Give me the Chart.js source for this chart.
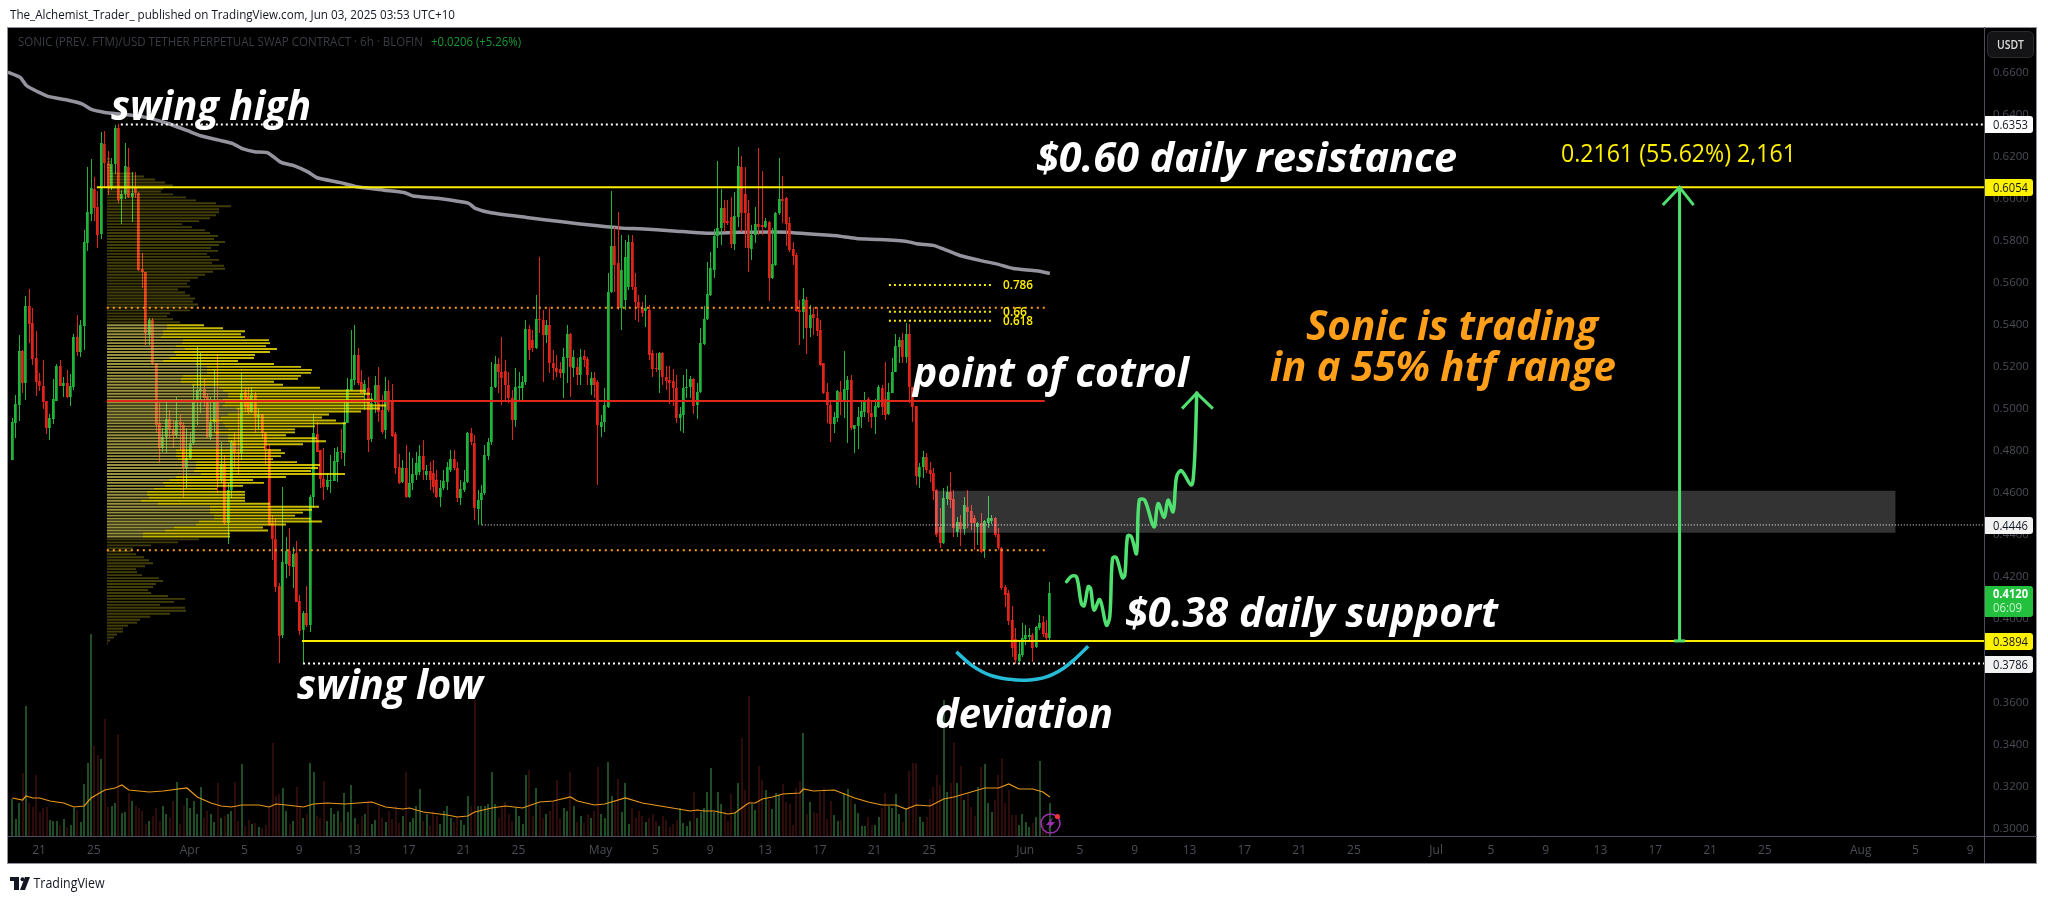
<!DOCTYPE html>
<html><head><meta charset="utf-8"><title>SONIC</title>
<script src="https://cdn.jsdelivr.net/npm/chart.js@4/dist/chart.umd.js"></script>
<style>html,body{margin:0;padding:0;background:#fff}canvas{display:block}</style></head>
<body><canvas id="c" width="2048" height="899"></canvas>
<script>
const opens=[0.4754,0.4931,0.5016,0.5274,0.5121,0.5488,0.5407,0.5240,0.5131,0.5107,0.5035,0.4907,0.4950,0.5035,0.5202,0.5107,0.5121,0.5055,0.5102,0.5340,0.5269,0.5393,0.5788,0.5926,0.6045,0.5959,0.5831,0.6259,0.6169,0.6055,0.6164,0.6335,0.5997,0.6021,0.6150,0.6007,0.6055,0.6026,0.5664,0.5650,0.5350,0.5421,0.5216,0.4931,0.4812,0.4864,0.4950,0.4902,0.4873,0.4935,0.4921,0.4716,0.4764,0.4835,0.5031,0.5083,0.5093,0.5055,0.4864,0.4935,0.5031,0.4659,0.4735,0.4454,0.4612,0.4840,0.4793,0.4788,0.5078,0.5055,0.4983,0.5064,0.4959,0.4973,0.4883,0.4807,0.4454,0.4378,0.4154,0.3921,0.4259,0.4321,0.4245,0.4312,0.4083,0.3945,0.4026,0.3969,0.4578,0.4878,0.4802,0.4664,0.4626,0.4654,0.4654,0.4745,0.4797,0.4788,0.4931,0.5088,0.5135,0.5255,0.5126,0.5074,0.5097,0.4855,0.5026,0.5112,0.4993,0.4897,0.5083,0.5035,0.4878,0.4721,0.4650,0.4716,0.4578,0.4645,0.4683,0.4697,0.4774,0.4683,0.4702,0.4693,0.4659,0.4578,0.4621,0.4650,0.4707,0.4759,0.4716,0.4574,0.4612,0.4650,0.4883,0.4835,0.4521,0.4564,0.4597,0.4774,0.4840,0.5102,0.5212,0.5174,0.5178,0.5112,0.5050,0.4945,0.5097,0.5097,0.5126,0.5378,0.5326,0.5288,0.5426,0.5421,0.5350,0.5397,0.5216,0.5193,0.5188,0.5169,0.5240,0.5355,0.5193,0.5197,0.5159,0.5250,0.5235,0.5112,0.5145,0.5126,0.4912,0.4935,0.5007,0.5554,0.5774,0.5693,0.5478,0.5516,0.5578,0.5793,0.5578,0.5507,0.5478,0.5464,0.5469,0.5264,0.5193,0.5183,0.5264,0.5150,0.5135,0.5131,0.5097,0.4954,0.4969,0.5097,0.5102,0.5140,0.5016,0.5078,0.5307,0.5426,0.5540,0.5659,0.5821,0.5859,0.5955,0.5893,0.5912,0.5783,0.5912,0.6150,0.6021,0.5931,0.5759,0.5826,0.5878,0.5874,0.5864,0.5888,0.5621,0.5683,0.5931,0.5997,0.6002,0.5883,0.5759,0.5731,0.5469,0.5459,0.5516,0.5383,0.5450,0.5431,0.5374,0.5216,0.5078,0.5016,0.4926,0.4954,0.5078,0.5040,0.5088,0.5135,0.4902,0.4916,0.4959,0.4983,0.5045,0.4978,0.4959,0.5007,0.5097,0.5045,0.4973,0.5074,0.5174,0.5293,0.5326,0.5245,0.5355,0.5102,0.5012,0.4673,0.4721,0.4769,0.4707,0.4693,0.4612,0.4435,0.4359,0.4569,0.4602,0.4569,0.4412,0.4459,0.4426,0.4531,0.4512,0.4478,0.4435,0.4454,0.4326,0.4454,0.4464,0.4478,0.4402,0.4335,0.4150,0.4121,0.3993,0.3902,0.3797,0.3826,0.3902,0.3912,0.3921,0.3864,0.3954,0.3983,0.3931,0.3907];
const highs=[0.4954,0.5064,0.5350,0.5278,0.5535,0.5569,0.5478,0.5369,0.5169,0.5231,0.5035,0.4973,0.5140,0.5212,0.5231,0.5150,0.5183,0.5164,0.5355,0.5445,0.5421,0.5850,0.6150,0.6188,0.6102,0.6035,0.6316,0.6321,0.6226,0.6193,0.6350,0.6353,0.6040,0.6264,0.6240,0.6126,0.6126,0.6031,0.5740,0.5650,0.5431,0.5431,0.5216,0.5026,0.4907,0.5031,0.4993,0.4945,0.5055,0.4973,0.4935,0.4907,0.4888,0.5112,0.5293,0.5264,0.5145,0.5074,0.5055,0.5188,0.5259,0.4840,0.4778,0.4645,0.4850,0.4883,0.5002,0.5169,0.5097,0.5102,0.5102,0.5078,0.5002,0.4973,0.4888,0.4826,0.4493,0.4478,0.4169,0.4626,0.4388,0.4431,0.4340,0.4369,0.4112,0.4035,0.4155,0.4588,0.4973,0.4935,0.4802,0.4812,0.4693,0.4778,0.4812,0.4816,0.4902,0.5031,0.5145,0.5373,0.5397,0.5288,0.5183,0.5135,0.5150,0.5074,0.5155,0.5197,0.5064,0.5150,0.5135,0.5116,0.4888,0.4783,0.4754,0.4826,0.4793,0.4764,0.4793,0.4826,0.4850,0.4731,0.4745,0.4754,0.4707,0.4659,0.4707,0.4745,0.4802,0.4802,0.4745,0.4659,0.4707,0.4888,0.4907,0.4873,0.4612,0.4635,0.4826,0.4859,0.5221,0.5250,0.5240,0.5340,0.5231,0.5174,0.5088,0.5193,0.5174,0.5155,0.5421,0.5397,0.5373,0.5540,0.5721,0.5469,0.5421,0.5483,0.5278,0.5255,0.5221,0.5288,0.5397,0.5359,0.5278,0.5240,0.5283,0.5278,0.5245,0.5174,0.5174,0.5135,0.4969,0.5097,0.5645,0.6035,0.5864,0.5935,0.5826,0.5802,0.5826,0.5826,0.5645,0.5540,0.5507,0.5540,0.5493,0.5278,0.5264,0.5269,0.5269,0.5202,0.5202,0.5188,0.5159,0.5007,0.5159,0.5188,0.5155,0.5145,0.5121,0.5383,0.5488,0.5697,0.5745,0.5855,0.6178,0.6045,0.5993,0.5993,0.6007,0.6031,0.6245,0.6202,0.6150,0.5993,0.5874,0.5959,0.6240,0.6131,0.5907,0.5893,0.5859,0.5935,0.6193,0.6107,0.6007,0.5912,0.5793,0.5740,0.5516,0.5574,0.5531,0.5493,0.5483,0.5483,0.5421,0.5218,0.5121,0.5031,0.4983,0.5088,0.5131,0.5274,0.5155,0.5159,0.4923,0.5007,0.5031,0.5078,0.5055,0.5031,0.5045,0.5112,0.5112,0.5221,0.5121,0.5240,0.5355,0.5340,0.5359,0.5407,0.5402,0.5104,0.5014,0.4740,0.4797,0.4788,0.4745,0.4716,0.4616,0.4526,0.4621,0.4631,0.4697,0.4612,0.4483,0.4493,0.4578,0.4612,0.4540,0.4493,0.4459,0.4502,0.4469,0.4583,0.4493,0.4483,0.4431,0.4340,0.4159,0.4135,0.4059,0.3954,0.3897,0.3978,0.3969,0.3954,0.3931,0.3964,0.4016,0.4012,0.3993,0.4174];
const lows=[0.4754,0.4859,0.4940,0.5074,0.5040,0.5312,0.5207,0.5059,0.5083,0.4997,0.4878,0.4850,0.4926,0.5035,0.5107,0.5055,0.5050,0.5012,0.5088,0.5250,0.5245,0.5278,0.5750,0.5893,0.5893,0.5764,0.5807,0.6050,0.6016,0.6040,0.6116,0.5978,0.5878,0.5997,0.6002,0.5888,0.6002,0.5655,0.5574,0.5302,0.5302,0.5207,0.4883,0.4740,0.4793,0.4788,0.4859,0.4812,0.4859,0.4802,0.4578,0.4621,0.4754,0.4826,0.4921,0.4978,0.5007,0.4859,0.4850,0.4888,0.4597,0.4645,0.4445,0.4354,0.4574,0.4721,0.4683,0.4754,0.4983,0.4973,0.4978,0.4883,0.4897,0.4855,0.4735,0.4440,0.4278,0.4126,0.3788,0.3907,0.4193,0.4202,0.4145,0.4078,0.3921,0.3786,0.3959,0.3935,0.4526,0.4793,0.4621,0.4564,0.4612,0.4597,0.4654,0.4650,0.4759,0.4726,0.4931,0.5083,0.5112,0.5112,0.5074,0.4993,0.4793,0.4840,0.4978,0.4935,0.4878,0.4855,0.4983,0.4864,0.4688,0.4640,0.4645,0.4574,0.4574,0.4612,0.4659,0.4683,0.4659,0.4659,0.4612,0.4597,0.4574,0.4531,0.4612,0.4612,0.4697,0.4707,0.4554,0.4540,0.4602,0.4645,0.4826,0.4469,0.4445,0.4446,0.4588,0.4754,0.4826,0.5097,0.5074,0.5016,0.5040,0.5026,0.4850,0.4912,0.5040,0.5040,0.5112,0.5231,0.5269,0.5283,0.5359,0.5126,0.5312,0.5169,0.5135,0.5150,0.5145,0.5050,0.5121,0.5055,0.5150,0.5112,0.5112,0.5197,0.5112,0.5064,0.5050,0.4635,0.4864,0.4888,0.5002,0.5550,0.5554,0.5469,0.5374,0.5469,0.5564,0.5564,0.5421,0.5412,0.5436,0.5388,0.5231,0.5150,0.5174,0.5074,0.5112,0.5088,0.5021,0.5012,0.4931,0.4893,0.4883,0.5050,0.5050,0.4973,0.4950,0.5074,0.5302,0.5421,0.5535,0.5621,0.5764,0.5778,0.5840,0.5874,0.5764,0.5755,0.5864,0.5840,0.5764,0.5650,0.5707,0.5788,0.5826,0.5826,0.5859,0.5512,0.5619,0.5678,0.5921,0.5883,0.5774,0.5745,0.5683,0.5459,0.5302,0.5331,0.5259,0.5340,0.5350,0.5345,0.5205,0.5069,0.4931,0.4840,0.4883,0.4935,0.4969,0.4954,0.4835,0.4897,0.4788,0.4807,0.4907,0.4959,0.4935,0.4907,0.4878,0.5002,0.4969,0.4945,0.4969,0.5072,0.5172,0.5216,0.5216,0.5216,0.5026,0.4935,0.4635,0.4621,0.4669,0.4693,0.4650,0.4564,0.4388,0.4335,0.4354,0.4540,0.4526,0.4388,0.4388,0.4345,0.4397,0.4431,0.4421,0.4326,0.4350,0.4314,0.4288,0.4431,0.4450,0.4388,0.4326,0.4135,0.4055,0.3969,0.3816,0.3786,0.3793,0.3816,0.3873,0.3897,0.3793,0.3859,0.3945,0.3912,0.3893,0.3897];
const closes=[0.4935,0.5021,0.5274,0.5121,0.5488,0.5402,0.5235,0.5126,0.5107,0.5031,0.4907,0.4954,0.5045,0.5202,0.5107,0.5121,0.5055,0.5107,0.5340,0.5269,0.5397,0.5793,0.5935,0.6050,0.5955,0.5826,0.6264,0.6169,0.6050,0.6164,0.6335,0.5993,0.6021,0.6155,0.6007,0.6026,0.6026,0.5659,0.5650,0.5359,0.5421,0.5216,0.4921,0.4812,0.4864,0.4950,0.4897,0.4873,0.4940,0.4921,0.4716,0.4764,0.4835,0.5031,0.5088,0.5093,0.5050,0.4864,0.4935,0.5031,0.4659,0.4735,0.4454,0.4612,0.4840,0.4788,0.4788,0.5074,0.5007,0.4983,0.5064,0.4959,0.4973,0.4883,0.4802,0.4445,0.4378,0.4150,0.3916,0.4269,0.4321,0.4250,0.4307,0.4078,0.3940,0.4026,0.3969,0.4578,0.4883,0.4793,0.4664,0.4626,0.4659,0.4659,0.4750,0.4793,0.4793,0.4935,0.5093,0.5140,0.5255,0.5121,0.5074,0.5116,0.4850,0.5026,0.5112,0.4983,0.4888,0.5083,0.4993,0.4869,0.4716,0.4645,0.4716,0.4578,0.4645,0.4688,0.4740,0.4774,0.4707,0.4702,0.4659,0.4626,0.4578,0.4621,0.4654,0.4721,0.4759,0.4716,0.4574,0.4616,0.4650,0.4883,0.4840,0.4526,0.4564,0.4597,0.4778,0.4840,0.5102,0.5212,0.5174,0.5145,0.5112,0.5050,0.4945,0.5102,0.5107,0.5126,0.5378,0.5278,0.5288,0.5426,0.5421,0.5350,0.5397,0.5216,0.5193,0.5174,0.5169,0.5245,0.5355,0.5197,0.5245,0.5159,0.5245,0.5231,0.5159,0.5145,0.5112,0.4921,0.4935,0.5016,0.5554,0.5774,0.5683,0.5478,0.5659,0.5721,0.5793,0.5578,0.5507,0.5478,0.5454,0.5478,0.5255,0.5188,0.5188,0.5264,0.5150,0.5131,0.5121,0.5097,0.4954,0.4973,0.5097,0.5102,0.5140,0.5012,0.5078,0.5312,0.5426,0.5545,0.5669,0.5821,0.5859,0.5955,0.5883,0.5883,0.5783,0.5916,0.6155,0.5931,0.5931,0.5764,0.5826,0.5878,0.5864,0.5864,0.5893,0.5621,0.5688,0.5931,0.5997,0.5988,0.5878,0.5755,0.5726,0.5464,0.5459,0.5521,0.5383,0.5445,0.5431,0.5369,0.5207,0.5074,0.5016,0.4926,0.4959,0.5083,0.5031,0.5093,0.5135,0.4907,0.4921,0.4959,0.4988,0.5031,0.4978,0.4959,0.5012,0.5102,0.5007,0.4969,0.5078,0.5174,0.5297,0.5326,0.5245,0.5355,0.5102,0.5007,0.4678,0.4721,0.4769,0.4707,0.4688,0.4607,0.4397,0.4359,0.4574,0.4602,0.4564,0.4431,0.4459,0.4426,0.4540,0.4507,0.4454,0.4454,0.4454,0.4316,0.4464,0.4478,0.4478,0.4397,0.4335,0.4145,0.4112,0.3988,0.3859,0.3802,0.3831,0.3907,0.3921,0.3921,0.3859,0.3959,0.3978,0.3926,0.3907,0.4120];
const volumes=[37,17,33,63,130,33,29,61,24,28,29,16,15,15,11,17,9,11,28,26,14,52,73,202,90,81,77,117,29,30,33,102,23,24,43,35,30,28,25,12,15,20,28,15,30,22,18,35,54,12,30,38,28,35,22,49,18,25,22,14,53,18,20,22,25,54,15,72,10,16,12,13,9,8,11,30,93,40,42,48,25,12,15,49,30,18,22,73,64,20,18,55,15,28,22,25,14,43,24,51,18,12,20,22,35,12,16,30,18,14,25,17,30,13,20,64,14,18,30,47,15,22,10,25,20,12,25,30,18,14,20,16,11,40,30,136,30,30,30,32,64,32,18,30,34,22,15,28,20,12,61,66,20,48,30,18,22,25,35,56,18,28,25,64,30,14,20,13,22,18,25,69,22,18,74,40,35,57,24,53,12,28,18,25,20,14,18,22,15,10,20,16,9,12,16,28,13,10,15,44,18,24,28,44,68,24,44,32,25,15,42,23,53,98,46,140,32,26,70,56,46,36,27,43,41,52,34,32,11,48,55,103,22,34,24,23,44,48,17,35,21,15,16,43,47,38,32,23,10,10,19,11,11,19,28,43,30,28,42,22,14,27,65,73,73,19,14,19,37,49,61,51,136,44,53,94,53,70,36,43,29,20,49,69,72,33,24,36,61,78,33,46,21,21,11,22,14,9,13,19,75,13,6,33];
const volMaBars=[0,3,4,6,8,11,15,18,21,23,27,30,32,34,40,44,51,54,58,61,64,67,72,75,77,80,85,88,92,97,105,109,114,116,120,127,130,133,135,140,144,149,154,158,163,165,170,173,179,184,191,198,200,202,205,209,211,213,215,217,219,222,225,230,231,234,240,243,246,250,254,258,261,264,268,272,275,279,284,288,291,294,298,301,303];
const volMaVals=[38,36,40,38,38,35,33,29,30,38,46,48,51,46,44,45,48,39,33,30,29,31,31,29,32,31,29,32,33,32,34,29,27,28,24,21,19,20,24,28,30,28,34,35,39,35,31,32,38,33,29,25,26,25,25,22,23,28,33,33,37,39,42,43,47,45,46,42,38,34,31,31,27,31,30,37,39,43,48,48,52,47,47,44,39];
const smaBars=[-1.3,2.3,4.2,7.5,10.7,16,20.5,23.1,27,31.6,36.8,41.4,45.9,51.2,55,60.3,64.2,67.4,70.7,74.6,78.5,82.4,86.3,89,95.5,100.6,108.5,114.4,117,124.1,133.3,135.2,139.8,150.2,160.6,171,178.9,183.3,193,202.7,212.5,226,232,241.7,246.5,253.3,261.2,264.1,268.9,271.4,276.7,283.5,287.4,292.3,299.1,303];
const smaVals=[0.6602,0.6577,0.6537,0.6508,0.6485,0.6469,0.6450,0.6424,0.6410,0.6402,0.6393,0.6377,0.6355,0.6323,0.6299,0.6278,0.6263,0.6236,0.6223,0.6218,0.6172,0.6156,0.6127,0.6099,0.6077,0.6056,0.6040,0.6029,0.6012,0.6001,0.5977,0.5953,0.5932,0.5910,0.5889,0.5870,0.5858,0.5856,0.5846,0.5835,0.5839,0.5840,0.5832,0.5821,0.5810,0.5805,0.5796,0.5785,0.5777,0.5763,0.5729,0.5702,0.5689,0.5667,0.5656,0.5644];
const profileTop=0.6352, profileStep=0.001593;
const profileUp=[3,4,4,5,5,27,37,48,58,66,56,54,66,79,89,109,124,112,112,109,103,92,75,85,98,103,111,107,118,112,104,111,100,103,112,105,117,118,106,98,91,83,80,83,71,78,83,88,86,91,87,83,63,60,66,73,60,60,56,56,54,76,75,69,78,67,69,63,56,89,100,100,100,76,74,74,85,112,116,121,121,116,118,116,129,134,121,114,103,116,118,121,107,121,121,121,125,134,69,69,69,71,89,89,89,87,94,69,63,56,58,47,40,40,42,34,51,103,103,103,107,107,92,89,67,58,36,36,92,71,44,26,24,29,37,42,46,38,29,30,35,52,56,49,46,41,44,61,78,67,53,78,79,63,43,33,30,21,16,16,10,7,3,1];
const profileTotal=[3,4,4,5,5,27,37,48,58,66,56,54,66,79,89,109,124,112,112,109,103,92,75,85,98,103,111,107,118,112,104,111,100,103,112,105,117,118,106,98,91,83,80,83,71,78,83,88,86,91,87,83,63,60,66,73,97,116,138,134,138,162,163,159,170,163,148,147,131,167,194,205,204,194,191,167,176,213,259,263,257,266,263,279,273,254,222,215,229,239,208,188,188,179,210,219,196,158,174,178,174,166,190,213,211,204,238,179,146,157,136,110,138,138,138,138,163,212,205,196,188,204,215,179,156,161,123,123,92,71,44,26,24,29,37,42,46,38,29,30,35,52,56,49,46,41,44,61,78,67,53,78,79,63,43,33,30,21,16,16,10,7,3,1];
const priceTicks=[0.66,0.64,0.62,0.60,0.58,0.56,0.54,0.52,0.50,0.48,0.46,0.44,0.42,0.40,0.38,0.36,0.34,0.32,0.30];
const dayTickLabels=['21','25','Apr','5','9','13','17','21','25','May','5','9','13','17','21','25','Jun','5','9','13','17','21','25','Jul','5','9','13','17','21','25','Aug','5','9'];
const dayTickOffsets=[0,4,11,15,19,23,27,31,35,41,45,49,53,57,61,65,72,76,80,84,88,92,96,102,106,110,114,118,122,126,133,137,141];
const pathBars=[307.9,309.3,310.8,312.2,313,314.2,314.9,315.9,317.6,319.5,320.5,321.3,322.4,324.2,324.9,325.7,326.8,328.3,329.1,330.7,333.4,334.6,336.4,337.5,339,340,341.4,344.3,345,345.5,345.9];
const pathVals=[0.4176,0.4202,0.4199,0.4072,0.4061,0.4152,0.4144,0.4041,0.4091,0.3969,0.4009,0.4287,0.4291,0.4195,0.4207,0.4394,0.4390,0.4310,0.4564,0.4564,0.4437,0.4548,0.4482,0.4564,0.4509,0.4675,0.4704,0.4636,0.4691,0.4850,0.5074];
const curveBars=[275.7,280.1,285.5,291.3,296.2,302,306.9,310.8,314.2];
const curveVals=[0.3842,0.3779,0.3731,0.3711,0.3707,0.3723,0.3763,0.3815,0.3869];

const C_UP='#1fb53a',C_DN='#e0241a',C_GRN='#50e070',C_YEL='#ffee00',C_ORG='#ff9f1a';
const BARS_PER_DAY=4, DAY0_BAR=7.8, X_MIN=-1.255, X_MAX=575.8, Y_MIN=0.29652, Y_MAX=0.68167;

// crisp vertical candles, as on the original
const _draw=Chart.BarElement.prototype.draw;
Chart.BarElement.prototype.draw=function(ctx){
  if(this.horizontal){return _draw.call(this,ctx);}
  const s=[this.x,this.y,this.base];
  const w=Math.round(this.width);
  this.x=Math.round(s[0]-w/2)+this.width/2;
  let t=Math.round(s[1]),b=Math.round(s[2]);
  if(t===b){b=t+1;}
  this.y=t;this.base=b;
  _draw.call(this,ctx);
  this.x=s[0];this.y=s[1];this.base=s[2];
};

const colorsOf=(up,dn)=>closes.map((c,i)=>c>=opens[i]?up:dn);
const line=(pts,color,width,dash,order,extra)=>Object.assign({type:'line',data:pts,borderColor:color,borderWidth:width,borderDash:dash||[],pointRadius:0,tension:0,order,xAxisID:'x',yAxisID:'y',fill:false},extra||{});
const lvl=(a,b,p,color,width,dash)=>line([{x:a,y:p},{x:b,y:p}],color,width,dash,2);
const zip=(xs,ys)=>xs.map((x,i)=>({x,y:ys[i]}));
const profileRow=k=>profileTop-k*profileStep;

const datasets=[
 // projections
 line(zip(pathBars,pathVals),C_GRN,3.5,[],1,{tension:0.35,borderCapStyle:'round',borderJoinStyle:'round'}),
 line([{x:341.6,y:0.5000},{x:345.9,y:0.5074},{x:350.6,y:0.5000}],C_GRN,3,[],1),
 line(zip(curveBars,curveVals),'#26bcd8',3.5,[],1,{tension:0.4}),
 line([{x:486.9,y:0.3894},{x:486.9,y:0.6054}],C_GRN,3,[],1),
 line([{x:482,y:0.5969},{x:486.9,y:0.6054},{x:491,y:0.5969}],C_GRN,3,[],1),
 line([{x:485.3,y:0.3894},{x:488.5,y:0.3894}],C_GRN,3,[],1),
 // levels
 lvl(31.7,X_MAX,0.6353,'#ffffff',2,[2,3]),
 lvl(24.7,X_MAX,0.6054,C_YEL,2,[]),
 lvl(27.6,301.5,0.5480,C_ORG,2,[2,4]),
 lvl(27.6,301.5,0.4326,C_ORG,2,[2,4]),
 lvl(27.6,301.5,0.5036,'#e0281a',2,[]),
 lvl(137.1,X_MAX,0.4446,'#ffffff',1,[1,2]),
 lvl(84.6,X_MAX,0.3894,C_YEL,2,[]),
 lvl(84.9,X_MAX,0.3786,'#ffffff',2,[2,3]),
 lvl(256,286.3,0.5588,C_YEL,2,[2,3]),
 lvl(256,286.3,0.5461,C_YEL,2,[2,3]),
 lvl(256,286.3,0.5418,C_YEL,2,[2,3]),
 // zone
 line([{x:269.4,y:0.4609},{x:550,y:0.4609}],'rgba(0,0,0,0)',0,[],2.5,{fill:{target:{value:0.4409}},backgroundColor:'rgba(255,255,255,0.2)'}),
 // volume profile
 {type:'bar',label:'profile up',indexAxis:'y',xAxisID:'xProf',yAxisID:'yProf',grouped:false,order:3,barPercentage:0.8,inflateAmount:0,
  data:profileTotal.map((t,k)=>({y:profileRow(k),x:[0,profileUp[k]]})),
  backgroundColor:profileTotal.map((t,k)=>t===profileUp[k]?'rgba(255,240,40,0.26)':'rgba(205,195,85,0.74)')},
 {type:'bar',label:'profile down',indexAxis:'y',xAxisID:'xProf',yAxisID:'yProf',grouped:false,order:3,barPercentage:0.8,inflateAmount:0,
  data:profileTotal.map((t,k)=>({y:profileRow(k),x:[profileUp[k],t]})),
  backgroundColor:'rgba(255,238,0,0.78)'},
 // candles
 {type:'bar',label:'body',xAxisID:'x',yAxisID:'y',grouped:false,order:4,barPercentage:1,maxBarThickness:3,inflateAmount:0,
  data:opens.map((o,i)=>({x:i,y:[o,closes[i]]})),backgroundColor:colorsOf(C_UP,C_DN)},
 {type:'bar',label:'wick',xAxisID:'x',yAxisID:'y',grouped:false,order:5,barPercentage:1,maxBarThickness:1,inflateAmount:0,
  data:lows.map((l,i)=>({x:i,y:[l,highs[i]]})),backgroundColor:colorsOf(C_UP,C_DN)},
 line(zip(smaBars,smaVals),'#94949f',3.5,[],6,{tension:0.2}),
 // volume
 {type:'line',data:zip(volMaBars,volMaVals),borderColor:'#e8981c',borderWidth:1.2,pointRadius:0,tension:0,order:7,xAxisID:'x',yAxisID:'yVol',fill:false},
 {type:'bar',label:'volume',xAxisID:'x',yAxisID:'yVol',grouped:false,order:8,barPercentage:1,maxBarThickness:2,inflateAmount:0,
  data:volumes.map((v,i)=>({x:i,y:v})),backgroundColor:colorsOf('#1f4d25','#2e0c0a')}
];

function fit(ctx,text,x,y,w,font,color,align){
  ctx.save();ctx.font=font;ctx.fillStyle=color;ctx.textBaseline='alphabetic';ctx.textAlign='left';
  const m=ctx.measureText(text).width;ctx.translate(x,y);ctx.scale(w/m,1);ctx.fillText(text,0,0);ctx.restore();
}
const BIG='italic 700 41px "Open Sans"';
const UI='"Open Sans"';

const frame={id:'frame',beforeDraw(ch){
  const c=ch.ctx;c.save();
  c.fillStyle='#fff';c.fillRect(0,0,2048,899);
  c.fillStyle='#000';c.fillRect(8,27,2029,836);
  c.strokeStyle='#8f929a';c.lineWidth=1;c.strokeRect(7.5,27.5,2029,836);
  c.strokeStyle='#4b4e5c';c.beginPath();c.moveTo(1984.5,27);c.lineTo(1984.5,863);c.moveTo(8,836.5);c.lineTo(2037,836.5);c.stroke();
  c.restore();
}};
const overlay={id:'overlay',afterDraw(ch){
  const c=ch.ctx,y=ch.scales.y;
  fit(c,'The_Alchemist_Trader_ published on TradingView.com, Jun 03, 2025 03:53 UTC+10',10,19,445,`13px ${UI}`,'#131722');
  fit(c,'SONIC (PREV. FTM)/USD TETHER PERPETUAL SWAP CONTRACT · 6h · BLOFIN',18,46,405,`13px ${UI}`,'#3a3d44');
  fit(c,'+0.0206 (+5.26%)',431,46,90,`13px ${UI}`,'#1a9a33');
  // annotations
  fit(c,'swing high',111,120,200,BIG,'#fff');
  fit(c,'swing low',297,699,186,BIG,'#fff');
  fit(c,'$0.60 daily resistance',1036,172,421,BIG,'#fff');
  fit(c,'point of cotrol',913,387,276,BIG,'#fff');
  fit(c,'$0.38 daily support',1125,627,373,BIG,'#fff');
  fit(c,'deviation',935,728,178,BIG,'#fff');
  fit(c,'Sonic is trading',1306,340,292,BIG,C_ORG);
  fit(c,'in a 55% htf range',1270,381,346,BIG,C_ORG);
  fit(c,'0.2161 (55.62%) 2,161',1561,162,235,`500 26px ${UI}`,'#fff000');
  fit(c,'0.786',1003,289,30,`600 13px ${UI}`,C_YEL);
  fit(c,'0.66',1003,316,24,`600 13px ${UI}`,C_YEL);
  fit(c,'0.618',1003,325,30,`600 13px ${UI}`,C_YEL);
  // USDT button
  c.save();c.fillStyle='#141416';c.strokeStyle='#2c2c30';c.lineWidth=1;c.beginPath();c.roundRect(1987.5,31.5,46,26,5);c.fill();c.stroke();c.restore();
  fit(c,'USDT',1997,49,27,`600 12px ${UI}`,'#dcdcdc');
  // price tags
  [[0.6353,'#ffffff','#131722'],[0.6054,'#fff200','#131722'],[0.4446,'#f2f2f2','#131722'],[0.3894,'#fff200','#131722'],[0.3786,'#f2f2f2','#131722']].forEach(([p,bg,fg])=>{
    const py=Math.round(y.getPixelForValue(p));
    c.save();c.fillStyle=bg;c.beginPath();c.roundRect(1985,py-8,48,17,[0,3,3,0]);c.fill();c.restore();
    fit(c,p.toFixed(4),1993,py+4.5,35,`12px ${UI}`,fg);
  });
  const gy=Math.round(y.getPixelForValue(0.412));
  c.save();c.fillStyle='#22c03c';c.beginPath();c.roundRect(1985,gy-7,48,31,[0,3,3,0]);c.fill();c.restore();
  fit(c,'0.4120',1993,gy+5,35,`700 12px ${UI}`,'#ffffff');
  fit(c,'06:09',1993,gy+19,29,`12px ${UI}`,'#c7f2cf');
  // power icon
  c.save();c.strokeStyle='#9b2fae';c.lineWidth=1.6;c.beginPath();c.arc(1050.5,823.5,9.5,0,7);c.stroke();
  c.fillStyle='#9b2fae';c.beginPath();c.moveTo(1053,817);c.lineTo(1046,825);c.lineTo(1050,825);c.lineTo(1048,830);c.lineTo(1055,822);c.lineTo(1051,822);c.closePath();c.fill();
  c.fillStyle='#f0303a';c.beginPath();c.arc(1057.5,816.5,2.6,0,7);c.fill();c.restore();
  // footer
  c.save();c.fillStyle='#131722';
  c.fillRect(10,877,9,4);c.fillRect(14,881,5,9);c.beginPath();c.arc(22.5,879.2,2,0,7);c.fill();
  c.beginPath();c.moveTo(25,877);c.lineTo(30,877);c.lineTo(25,890);c.lineTo(20,890);c.closePath();c.fill();c.restore();
  fit(c,'TradingView',33.5,888,71,`14px ${UI}`,'#131722');
}};

new Chart(document.getElementById('c'),{
 type:'bar',
 data:{datasets},
 plugins:[frame,overlay],
 options:{
  responsive:false,animation:false,devicePixelRatio:1,events:[],
  layout:{padding:{left:8,top:27,right:11,bottom:36}},
  plugins:{legend:{display:false},tooltip:{enabled:false},title:{display:false}},
  scales:{
   x:{type:'linear',position:'bottom',min:X_MIN,max:X_MAX,offset:false,
      grid:{display:false,drawTicks:false},border:{display:false},
      afterFit(s){s.height=27;},
      afterBuildTicks(s){s.ticks=dayTickOffsets.map(d=>({value:DAY0_BAR+d*BARS_PER_DAY}));},
      ticks:{autoSkip:false,maxRotation:0,padding:7,color:'#4a4d55',font:{family:'Open Sans',size:12},
        callback:(v,i)=>dayTickLabels[i]}},
   y:{type:'linear',position:'right',min:Y_MIN,max:Y_MAX,
      grid:{display:false,drawTicks:false},border:{display:false},
      afterFit(s){s.width=53;},
      afterBuildTicks(s){s.ticks=priceTicks.map(v=>({value:v}));},
      ticks:{autoSkip:false,padding:9,color:'#4a4d55',font:{family:'Open Sans',size:11.5},callback:v=>Number(v).toFixed(4)}},
   yProf:{type:'linear',display:false,min:Y_MIN,max:Y_MAX},
   yVol:{type:'linear',display:false,min:0,max:809},
   xProf:{type:'linear',display:false,offset:false,min:-99,max:1877}
  }
 }
});
</script></body></html>
